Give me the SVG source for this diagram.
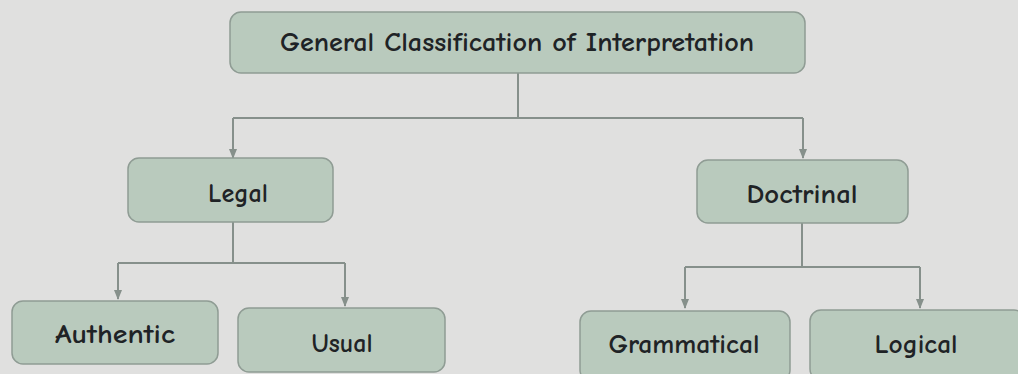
<svg xmlns="http://www.w3.org/2000/svg" width="1018" height="374" viewBox="0 0 1018 374">
<defs>
<marker id="ah" viewBox="0 0 10 10" refX="9" refY="5" markerWidth="10" markerHeight="10" markerUnits="userSpaceOnUse" orient="auto">
<path d="M0,1 L10,5 L0,9 Z" fill="#86908b"/>
</marker>
</defs>
<style>
.box{fill:#b9cabd;stroke:#8f9c94;stroke-width:1.5}
.lbl{font-family:"Comic Neue","Liberation Sans",sans-serif;font-size:27px;font-weight:bold;fill:#1f2326;text-anchor:middle}
.ln{fill:none;stroke:#86908b;stroke-width:2}
</style>
<rect x="0" y="0" width="1018" height="374" fill="#e0e0df"/>
<g id="connectors">
<path class="ln" d="M518,73 V118"/>
<path class="ln" d="M233,118 H803"/>
<path class="ln" d="M233,118 V158" marker-end="url(#ah)"/>
<path class="ln" d="M803,118 V158" marker-end="url(#ah)"/>
<path class="ln" d="M233,222 V263"/>
<path class="ln" d="M118,263 H345"/>
<path class="ln" d="M118,263 V299" marker-end="url(#ah)"/>
<path class="ln" d="M345,263 V306" marker-end="url(#ah)"/>
<path class="ln" d="M802,223 V267"/>
<path class="ln" d="M685,267 H920"/>
<path class="ln" d="M685,267 V308" marker-end="url(#ah)"/>
<path class="ln" d="M920,267 V308" marker-end="url(#ah)"/>
</g>
<g id="root">
<rect class="box" x="230" y="12" width="575" height="61" rx="11"/>
<text class="lbl" x="517" y="51" textLength="474" lengthAdjust="spacingAndGlyphs">General Classification of Interpretation</text>
</g>
<g id="legal">
<rect class="box" x="128" y="158" width="205" height="64" rx="11"/>
<text class="lbl" x="238" y="202" textLength="60" lengthAdjust="spacingAndGlyphs">Legal</text>
</g>
<g id="doctrinal">
<rect class="box" x="697" y="160" width="211" height="63" rx="11"/>
<text class="lbl" x="802" y="203" textLength="111" lengthAdjust="spacingAndGlyphs">Doctrinal</text>
</g>
<g id="authentic">
<rect class="box" x="12" y="301" width="206" height="63" rx="11"/>
<text class="lbl" x="115" y="343" textLength="120" lengthAdjust="spacingAndGlyphs">Authentic</text>
</g>
<g id="usual">
<rect class="box" x="238" y="308" width="207" height="64" rx="11"/>
<text class="lbl" x="342" y="352" textLength="61" lengthAdjust="spacingAndGlyphs">Usual</text>
</g>
<g id="grammatical">
<rect class="box" x="580" y="311" width="210" height="70" rx="11"/>
<text class="lbl" x="684" y="353" textLength="151" lengthAdjust="spacingAndGlyphs">Grammatical</text>
</g>
<g id="logical">
<rect class="box" x="810" y="310" width="215" height="70" rx="11"/>
<text class="lbl" x="916" y="353" textLength="83" lengthAdjust="spacingAndGlyphs">Logical</text>
</g>
</svg>
